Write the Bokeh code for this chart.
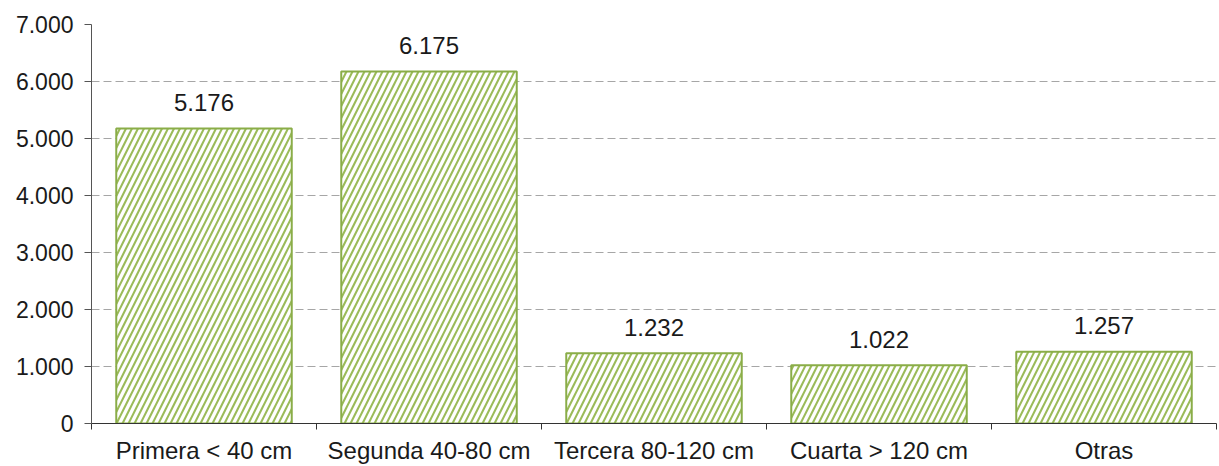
import numpy as np
from bokeh.plotting import figure
from bokeh.models import (ColumnDataSource, Range1d, FixedTicker, CustomJSTickFormatter)
from bokeh.core.properties import value
from bokeh.embed import file_html
from bokeh.resources import INLINE

categories = ["Primera < 40 cm", "Segunda 40-80 cm", "Tercera 80-120 cm", "Cuarta > 120 cm", "Otras"]
values = [5176, 6175, 1232, 1022, 1257]
y_ticks = [0, 1000, 2000, 3000, 4000, 5000, 6000, 7000]

n = len(categories)
xc = np.arange(n) + 0.5
labels = [f"{v:,}".replace(",", ".") for v in values]
src = ColumnDataSource(dict(x=xc, top=values, label=labels))

FONT = "Liberation Sans"
GREEN = "#9BBB59"
EDGE = "#8AAD48"

p = figure(width=1219, height=466, output_backend="svg", toolbar_location=None,
           x_range=Range1d(0, n), y_range=Range1d(0, 7000),
           min_border_left=91, min_border_right=3, min_border_top=24, min_border_bottom=42)
p.outline_line_color = None
p.background_fill_color = "white"
p.border_fill_color = "white"

p.vbar(x="x", top="top", bottom=0, width=0.78, source=src,
       fill_color="white", line_color=EDGE, line_width=2,
       hatch_pattern="/", hatch_color=GREEN, hatch_scale=12, hatch_weight=2.1)

p.text(x="x", y="top", text="label", source=src, text_align="center",
       text_baseline="alphabetic", y_offset=-26,
       text_font=value(FONT), text_font_size="24px", text_color="#1a1a1a")

# y axis
p.yaxis.ticker = FixedTicker(ticks=y_ticks)
p.yaxis.formatter = CustomJSTickFormatter(code="""
    if (tick < 1000) { return String(tick); }
    const th = Math.floor(tick / 1000);
    const rest = String(tick % 1000).padStart(3, '0');
    return th + '.' + rest;
""")
p.yaxis.major_label_text_font = FONT
p.yaxis.major_label_text_font_size = "23px"
p.yaxis.major_label_text_color = "#1a1a1a"
p.yaxis.major_tick_in = 0
p.yaxis.major_tick_out = 7
p.yaxis.minor_tick_line_color = None
p.yaxis.axis_line_color = "#555555"
p.yaxis.major_tick_line_color = "#555555"
p.yaxis.major_label_standoff = 11

# x axis: labels at centres, ticks at boundaries
p.xaxis.ticker = FixedTicker(ticks=list(xc), minor_ticks=list(np.arange(n + 1)))
p.xaxis.major_label_overrides = {float(x): c for x, c in zip(xc, categories)}
p.xaxis.major_tick_line_color = None
p.xaxis.major_tick_in = 0
p.xaxis.major_tick_out = 0
p.xaxis.minor_tick_in = 0
p.xaxis.minor_tick_out = 6
p.xaxis.minor_tick_line_color = "#333333"
p.xaxis.axis_line_color = "#333333"
p.xaxis.major_label_text_font = FONT
p.xaxis.major_label_text_font_size = "24px"
p.xaxis.major_label_text_color = "#1a1a1a"
p.xaxis.major_label_standoff = 7

p.xgrid.grid_line_color = None
p.ygrid.grid_line_color = "#A6A6A6"
p.ygrid.grid_line_dash = "8 4"
p.ygrid.grid_line_width = 1

open("out.html", "w").write(file_html(p, INLINE))
